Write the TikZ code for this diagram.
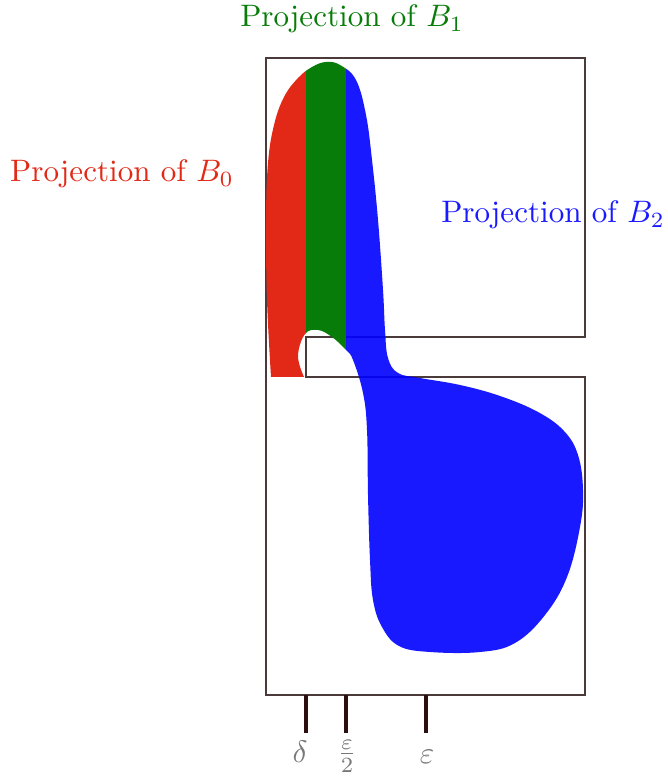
\documentclass[tikz,border=0pt]{standalone}
\usetikzlibrary{positioning}

\definecolor{projred}{RGB}{226,41,23}
\definecolor{projgreen}{RGB}{8,124,8}
\definecolor{projblue}{RGB}{0,0,255}
\definecolor{framebrown}{RGB}{75,58,58}
\definecolor{tickbrown}{RGB}{45,15,15}
\definecolor{ticklabel}{RGB}{120,120,120}

\newcommand{\blobpath}{(271,377) -- (304,377) -- plot[smooth, tension=0.65] coordinates {(304,377) (298,356) (305,334) (318,330) (332,337) (346,350) (353,360) (363,393) (367,430) (368,495) (370,560) (373,600) (382,627) (399,646) (430,652) (480,652) (515,643) (545,615) (567,577) (580,527) (583,490) (578,455) (564,431) (538,412) (500,396) (460,385) (420,378) (398,373) (388,358) (385,330) (383,290) (378,220) (372,160) (366,115) (356,80) (340,65) (326,62) (312,67) (298,78) (284,97) (274,125) (268,163) (266,220) (267,300) (271,377)} -- cycle}

\begin{document}
\begin{tikzpicture}[x=0.322pt, y=-0.322pt,
            frame/.style={draw=framebrown, line width=0.6pt},
            tick/.style={draw=tickbrown, line width=1.1pt},
            projlabel/.style={anchor=base, inner sep=0pt},
            ticklab/.style={text=ticklabel, inner sep=0pt}
            ]
            \useasboundingbox (0,0) rectangle (667,778);

            \node[projlabel, text=projgreen] (lab1) at (352,27) {Projection of $B_1$};
            \node[projlabel, text=projred] (lab0) at (122,182) {Projection of $B_0$};
            \node[projlabel, text=projblue!90] (lab2) at (553,223) {Projection of $B_2$};

            % box with the slot
            \draw[frame] (266,58) -- (585,58) -- (585,337) -- (306,337) -- (306,377)
                -- (585,377) -- (585,695) -- (266,695) -- cycle;

            % the three pieces of one blob
            \begin{scope}
                \clip (0,0) rectangle (306,778);
                \fill[projred] \blobpath;
            \end{scope}
            \begin{scope}
                \clip (306,0) rectangle (346,778);
                \fill[projgreen] \blobpath;
            \end{scope}
            \begin{scope}
                \clip (346,0) rectangle (667,778);
                \fill[projblue, fill opacity=0.9] \blobpath;
            \end{scope}

            \coordinate (dtop) at (306,695);
            \coordinate (dbot) at (306,733);
            \coordinate (htop) at (346,695);
            \coordinate (hbot) at (346,733);
            \coordinate (etop) at (426,695);
            \coordinate (ebot) at (426,733);
            \draw[tick] (dtop) -- (dbot);
            \draw[tick] (htop) -- (hbot);
            \draw[tick] (etop) -- (ebot);

            \node[ticklab] (dlab) at (300,752) {$\delta$};
            \node[ticklab] (hlab) at (347,756) {$\frac{\varepsilon}{2}$};
            \node[ticklab] (elab) at (427,757) {$\varepsilon$};
\end{tikzpicture}
\end{document}
